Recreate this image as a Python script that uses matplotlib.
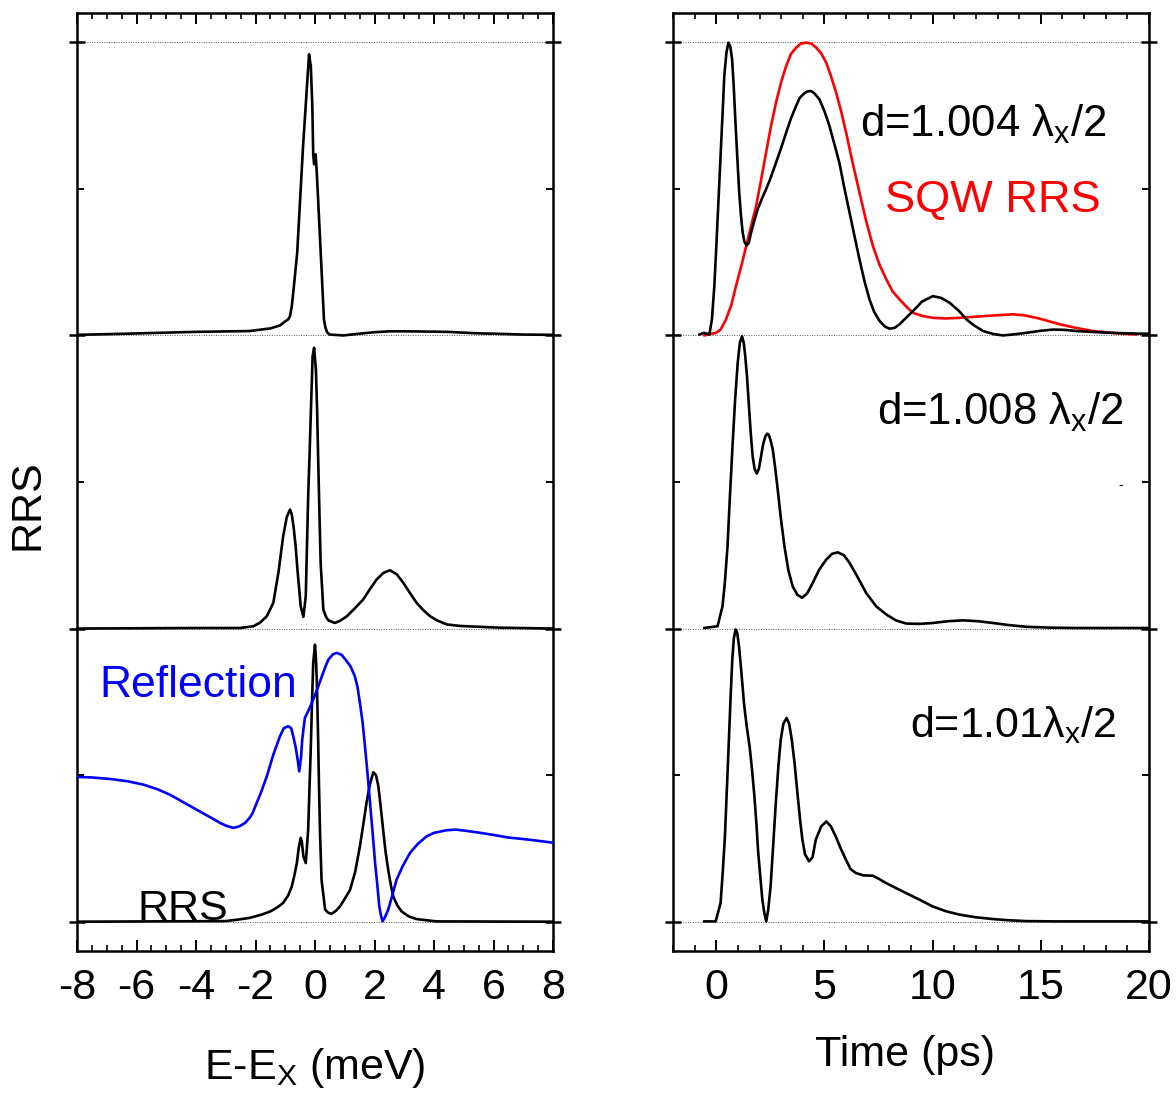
import matplotlib
matplotlib.use("Agg")
import matplotlib.pyplot as plt
from matplotlib.ticker import MultipleLocator

plt.rcParams['font.family'] = ['Liberation Sans', 'DejaVu Sans']
plt.rcParams['mathtext.fontset'] = 'custom'
plt.rcParams['mathtext.rm'] = 'Liberation Sans'
plt.rcParams['mathtext.it'] = 'Liberation Sans'
plt.rcParams['axes.unicode_minus'] = False

# ---- spectra, E-E_X in meV (each trace normalised, stacked by offset) ----
e_top = [-8.0, -6.3, -4.1, -2.2, -1.5, -1.18, -1.0, -0.9, -0.84, -0.78, -0.73, -0.6, -0.4,
         -0.27, -0.2, -0.14, -0.09, -0.06, -0.03, 0.02, 0.06, 0.17, 0.28, 0.30, 0.35, 0.41,
         0.5, 0.95, 1.5, 2.0, 2.5, 3.0, 4.0, 4.5, 5.5, 6.0, 7.0, 8.0]
rrs_top = [0.002, 0.006, 0.012, 0.015, 0.024, 0.034, 0.048, 0.055, 0.066, 0.10, 0.147, 0.28, 0.648,
           0.85, 0.959, 0.918, 0.782, 0.618, 0.584, 0.618, 0.556, 0.328, 0.099, 0.055, 0.027, 0.010,
           0.003, 0.0, 0.006, 0.011, 0.014, 0.014, 0.013, 0.012, 0.007, 0.006, 0.003, 0.002]

e_mid = [-8.0, -3.87, -2.52, -2.07, -1.85, -1.62, -1.40, -1.23, -1.07, -0.95, -0.84, -0.78,
         -0.71, -0.65, -0.59, -0.48, -0.39, -0.31, -0.23, -0.18, -0.14, -0.08, -0.03, 0.03,
         0.07, 0.11, 0.15, 0.19, 0.28, 0.37, 0.45, 0.67, 0.85, 1.07, 1.3, 1.62, 1.85, 2.07,
         2.3, 2.52, 2.75, 2.97, 3.2, 3.42, 3.65, 3.87, 4.1, 4.43, 4.87, 6.2, 8.0]
rrs_mid = [0.0, 0.002, 0.002, 0.008, 0.02, 0.042, 0.088, 0.191, 0.315, 0.38, 0.406, 0.39,
           0.338, 0.28, 0.201, 0.076, 0.040, 0.111, 0.451, 0.6, 0.736, 0.929, 0.958, 0.884,
           0.75, 0.565, 0.39, 0.224, 0.065, 0.04, 0.028, 0.019, 0.027, 0.042, 0.065, 0.099, 0.135, 0.167,
           0.19, 0.199, 0.185, 0.156, 0.12, 0.087, 0.062, 0.042, 0.028, 0.014, 0.009, 0.003, 0.0]

e_bot = [-8.0, -3.0, -2.6, -2.2, -1.8, -1.5, -1.25, -1.07, -0.9, -0.78, -0.7, -0.61, -0.55,
         -0.48, -0.44, -0.39, -0.31, -0.23, -0.14, -0.1, -0.06, 0.0, 0.03, 0.06, 0.1, 0.13,
         0.17, 0.22, 0.34, 0.45, 0.56, 0.7, 0.84, 1.0, 1.18, 1.35, 1.51, 1.62, 1.73, 1.85,
         1.96, 2.05, 2.13, 2.21, 2.29, 2.37, 2.46, 2.55, 2.63, 2.77, 2.91, 3.15, 3.41, 4.08, 8.0]
rrs_bot = [0.0, 0.002, 0.007, 0.013, 0.024, 0.035, 0.05, 0.064, 0.09, 0.120, 0.155, 0.200, 0.25,
           0.286, 0.27, 0.223, 0.200, 0.314, 0.598, 0.75, 0.883, 0.945, 0.9, 0.826, 0.65, 0.485,
           0.3, 0.143, 0.041, 0.03, 0.027, 0.037, 0.052, 0.078, 0.109, 0.17, 0.257, 0.33, 0.405, 0.47,
           0.510, 0.50, 0.462, 0.39, 0.314, 0.24, 0.177, 0.125, 0.086, 0.055, 0.035, 0.018, 0.009, 0.001, 0.0]

e_refl = [-8.0, -7.5, -6.9, -6.3, -5.78, -5.3, -4.87, -4.4, -3.87, -3.5,
          -3.19, -3.0, -2.75, -2.55, -2.35, -2.20, -2.1, -1.96, -1.8, -1.62,
          -1.4, -1.18, -1.05, -0.90, -0.8, -0.73, -0.65, -0.58, -0.53, -0.47,
          -0.43, -0.39, -0.34, -0.2, -0.06, 0.1, 0.23, 0.35, 0.45, 0.6,
          0.73, 0.9, 1.07, 1.2, 1.34, 1.43, 1.51, 1.6, 1.68, 1.77,
          1.85, 1.94, 2.02, 2.1, 2.16, 2.22, 2.27, 2.35, 2.46, 2.6,
          2.74, 2.95, 3.19, 3.45, 3.75, 4.0, 4.42, 4.73, 5.0, 5.5,
          6.0, 6.5, 7.0, 7.5, 8.1]
refl = [0.494, 0.492, 0.487, 0.479, 0.468, 0.452, 0.433, 0.406, 0.376, 0.355,
        0.337, 0.328, 0.320, 0.325, 0.337, 0.354, 0.37, 0.405, 0.445, 0.496,
        0.57, 0.632, 0.66, 0.667, 0.66, 0.632, 0.595, 0.55, 0.513, 0.56,
        0.62, 0.655, 0.695, 0.725, 0.758, 0.80, 0.837, 0.87, 0.894, 0.912,
        0.917, 0.91, 0.888, 0.87, 0.837, 0.80, 0.746, 0.68, 0.598, 0.50,
        0.405, 0.30, 0.200, 0.12, 0.052, 0.02, 0.001, 0.015, 0.041, 0.09,
        0.143, 0.19, 0.234, 0.265, 0.291, 0.303, 0.312, 0.314, 0.311, 0.304,
        0.296, 0.287, 0.282, 0.276, 0.268]

# ---- time traces, ps ----
t_1004 = [-0.79, -0.56, -0.32, -0.20, -0.09, 0.0, 0.06, 0.14, 0.22, 0.3,
          0.37, 0.47, 0.56, 0.65, 0.73, 0.8, 0.88, 0.97, 1.06, 1.14,
          1.22, 1.3, 1.40, 1.5, 1.61, 1.75, 1.91, 2.1, 2.30, 2.5,
          2.76, 3.0, 3.23, 3.45, 3.69, 3.85, 4.07, 4.2, 4.38, 4.55,
          4.77, 5.0, 5.23, 5.45, 5.69, 5.9, 6.16, 6.4, 6.62, 6.85,
          7.08, 7.3, 7.55, 7.8, 8.01, 8.25, 8.47, 8.7, 9.09, 9.5,
          10.01, 10.4, 10.79, 11.2, 11.56, 11.9, 12.33, 12.8, 13.25, 13.8,
          14.34, 15.0, 15.57, 16.1, 16.65, 17.4, 18.19, 19.58, 20.0]
i_1004 = [0.003, 0.009, 0.003, 0.055, 0.168, 0.30, 0.396, 0.52, 0.646, 0.77,
          0.885, 0.965, 0.999, 0.985, 0.942, 0.86, 0.737, 0.61, 0.487, 0.41,
          0.351, 0.32, 0.307, 0.315, 0.351, 0.39, 0.430, 0.465, 0.498, 0.535,
          0.589, 0.64, 0.692, 0.74, 0.783, 0.81, 0.826, 0.832, 0.834, 0.825,
          0.805, 0.765, 0.715, 0.655, 0.589, 0.51, 0.419, 0.335, 0.259, 0.185,
          0.123, 0.08, 0.049, 0.03, 0.023, 0.026, 0.038, 0.055, 0.083, 0.115,
          0.134, 0.128, 0.111, 0.085, 0.055, 0.035, 0.015, 0.005, 0.0, 0.004,
          0.009, 0.016, 0.020, 0.019, 0.015, 0.012, 0.009, 0.006, 0.006]

t_sqw = [-0.56, -0.01, 0.2, 0.45, 0.7, 0.91, 1.15, 1.38, 1.6, 1.84,
         2.07, 2.30, 2.53, 2.76, 3.0, 3.23, 3.45, 3.69, 3.92, 4.15,
         4.38, 4.62, 4.85, 5.08, 5.3, 5.54, 5.77, 6.00, 6.3, 6.62,
         6.93, 7.24, 7.55, 7.86, 8.15, 8.47, 8.8, 9.09, 9.5, 10.01,
         10.6, 11.25, 12.0, 12.79, 13.72, 14.2, 14.80, 15.3, 15.88, 16.6,
         17.42, 18.4, 19.43]
i_sqw = [0.0, 0.009, 0.02, 0.055, 0.105, 0.168, 0.235, 0.304, 0.37, 0.441,
         0.53, 0.623, 0.715, 0.794, 0.865, 0.919, 0.96, 0.982, 0.996, 0.999,
         0.996, 0.982, 0.962, 0.931, 0.885, 0.828, 0.765, 0.692, 0.59, 0.487,
         0.39, 0.305, 0.24, 0.191, 0.15, 0.123, 0.097, 0.077, 0.067, 0.060,
         0.058, 0.060, 0.064, 0.068, 0.072, 0.069, 0.060, 0.05, 0.038, 0.026,
         0.015, 0.008, 0.003]

t_1008 = [-0.56, 0.06, 0.29, 0.4, 0.52, 0.63, 0.75, 0.87, 0.99, 1.09,
          1.19, 1.27, 1.34, 1.42, 1.50, 1.59, 1.68, 1.77, 1.87, 1.97,
          2.07, 2.17, 2.27, 2.35, 2.42, 2.5, 2.61, 2.72, 2.84, 2.98,
          3.15, 3.33, 3.53, 3.75, 3.97, 4.2, 4.46, 4.75, 5.08, 5.35,
          5.62, 5.9, 6.16, 6.5, 6.93, 7.4, 7.86, 8.3, 8.78, 9.4,
          10.01, 10.7, 11.40, 12.1, 12.79, 13.5, 14.34, 15.5, 16.65, 20.0]
i_1008 = [0.002, 0.008, 0.077, 0.16, 0.281, 0.45, 0.622, 0.78, 0.906, 0.975,
          0.997, 0.975, 0.929, 0.86, 0.770, 0.67, 0.588, 0.545, 0.529, 0.545,
          0.588, 0.63, 0.656, 0.665, 0.662, 0.645, 0.611, 0.55, 0.474, 0.38,
          0.281, 0.2, 0.144, 0.115, 0.105, 0.12, 0.156, 0.2, 0.235, 0.255,
          0.260, 0.25, 0.224, 0.18, 0.121, 0.075, 0.048, 0.028, 0.017, 0.016,
          0.019, 0.025, 0.028, 0.025, 0.019, 0.012, 0.006, 0.003, 0.002, 0.002]

t_101 = [-0.57, -0.03, 0.20, 0.3, 0.40, 0.5, 0.59, 0.67, 0.74, 0.81,
         0.89, 0.97, 1.05, 1.15, 1.28, 1.4, 1.54, 1.65, 1.75, 1.85,
         1.94, 2.04, 2.13, 2.22, 2.31, 2.4, 2.51, 2.63, 2.75, 2.87,
         2.98, 3.1, 3.25, 3.37, 3.49, 3.62, 3.75, 3.87, 3.98, 4.1,
         4.29, 4.45, 4.60, 4.85, 5.09, 5.3, 5.52, 5.75, 5.99, 6.2,
         6.45, 6.8, 7.22, 7.5, 7.84, 8.3, 8.76, 9.4, 10.0, 10.6,
         11.24, 12.0, 12.78, 13.5, 14.32, 15.71, 20.0]
i_101 = [0.001, 0.001, 0.064, 0.17, 0.291, 0.47, 0.633, 0.78, 0.894, 0.965,
         0.997, 0.985, 0.940, 0.86, 0.746, 0.67, 0.598, 0.52, 0.439, 0.34,
         0.234, 0.15, 0.075, 0.03, 0.001, 0.04, 0.120, 0.26, 0.404, 0.53,
         0.621, 0.675, 0.695, 0.675, 0.621, 0.54, 0.439, 0.35, 0.280, 0.23,
         0.206, 0.22, 0.280, 0.325, 0.342, 0.325, 0.291, 0.25, 0.212, 0.18,
         0.166, 0.158, 0.157, 0.147, 0.132, 0.115, 0.098, 0.075, 0.052, 0.036,
         0.024, 0.015, 0.009, 0.005, 0.002, 0.001, 0.001]

offsets = [2, 1, 0]

W, H = 1176, 1098
fig = plt.figure(figsize=(W / 100, H / 100), dpi=100)
axL = fig.add_axes([77 / W, 147 / H, 476 / W, 938 / H])
axR = fig.add_axes([673 / W, 147 / H, 476 / W, 938 / H])

lw = 1.9
style = dict(lw=lw, solid_joinstyle='round', solid_capstyle='round')
for ax in (axL, axR):
    ax.set_ylim(-0.1, 3.1)
    for lev in range(4):
        ax.axhline(lev, color='0.35', lw=0.7, ls=(0, (1, 1.5)), zorder=1)
    for s in ax.spines.values():
        s.set_linewidth(1.8)
    ax.yaxis.set_major_locator(MultipleLocator(1))
    ax.yaxis.set_minor_locator(MultipleLocator(0.5))
    ax.tick_params(axis='y', which='major', direction='inout', length=11, width=1.8,
                   left=True, right=True, labelleft=False)
    ax.tick_params(axis='y', which='minor', direction='in', length=5, width=1.4,
                   left=True, right=True)
    ax.tick_params(axis='x', which='major', direction='in', length=8, width=1.4,
                   top=True, bottom=True, labelsize=31, pad=12)
    ax.tick_params(axis='x', which='minor', direction='in', length=4.5, width=1.2,
                   top=True, bottom=True)

# left: spectra
axL.set_xlim(-8, 8)
axL.xaxis.set_major_locator(MultipleLocator(2))
axL.xaxis.set_minor_locator(MultipleLocator(0.5))
for e, r, off in zip([e_top, e_mid, e_bot], [rrs_top, rrs_mid, rrs_bot], offsets):
    axL.plot(e, [v + off for v in r], color='black', zorder=3, **style)
axL.plot(e_refl, refl, color='#0000ff', zorder=3, **style)
axL.text(-7.26, 0.765, 'Reflection', color='#0000ff', fontsize=32, va='baseline')
axL.text(-5.98, 0.007, 'RRS', color='black', fontsize=31, va='baseline')

# right: time traces
axR.set_xlim(-2, 20)
axR.xaxis.set_major_locator(MultipleLocator(5))
axR.xaxis.set_minor_locator(MultipleLocator(1))
axR.plot(t_sqw, [v + 2 for v in i_sqw], color='#ff0000', zorder=3, **style)
for t, i, off in zip([t_1004, t_1008, t_101], [i_1004, i_1008, i_101], offsets):
    axR.plot(t, [v + off for v in i], color='black', zorder=4, **style)
axR.text(6.62, 2.679, r'd=1.004 $\mathrm{\lambda_x}$/2', fontsize=31.5, va='baseline')
axR.text(7.82, 2.42, 'SQW RRS', color='#ff0000', fontsize=32.5, va='baseline')
axR.text(7.41, 1.696, r'd=1.008 $\mathrm{\lambda_x}$/2', fontsize=31.5, va='baseline')
axR.text(8.94, 0.631, r'd=1.01$\mathrm{\lambda_x}$/2', fontsize=31, va='baseline')
axR.text(18.6, 1.49, '-', fontsize=10, va='center')

fig.text(28 / W, 1 - 505 / H, 'RRS', rotation=90, fontsize=31, ha='center', va='center')
fig.text(315 / W, 1 - 1068 / H, r'E-E$_\mathrm{X}$ (meV)', fontsize=31, ha='center', va='center')
fig.text(905 / W, 1 - 1055 / H, 'Time (ps)', fontsize=31, ha='center', va='center')

fig.savefig('out.png', dpi=100)
